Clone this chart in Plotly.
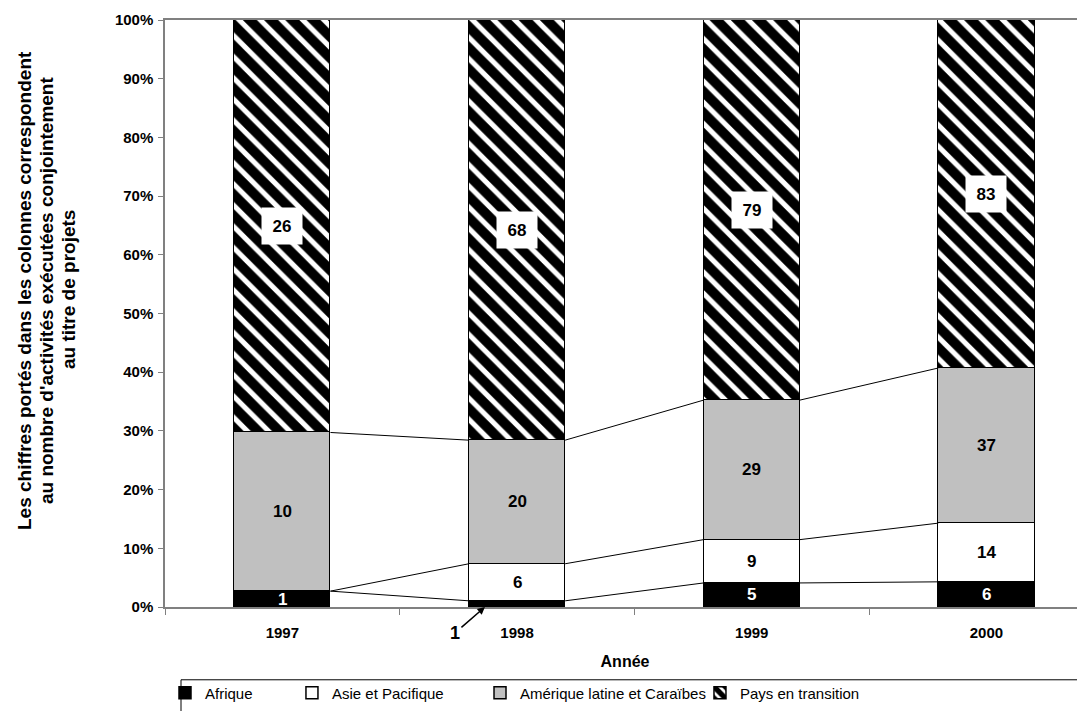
import plotly.graph_objects as go

# ---- data ----
years = ["1997", "1998", "1999", "2000"]
afrique = [1, 1, 5, 6]
asie = [0, 6, 9, 14]
amerique = [10, 20, 29, 37]
transition = [26, 68, 79, 83]
series_names = ["Afrique", "Asie et Pacifique", "Amérique latine et Caraïbes", "Pays en transition"]
y_tick_vals = [0, 0.1, 0.2, 0.3, 0.4, 0.5, 0.6, 0.7, 0.8, 0.9, 1.0]
y_title_lines = ["Les chiffres portés dans les colonnes correspondent",
                 "au nombre d'activités exécutées conjointement",
                 "au titre de projets"]

FONT = "Arial, 'Liberation Sans', sans-serif"
BAR_W = 0.41
PX_PER_CAT = 234.7  # approximate pixel width of one category (for small offsets)

series = [afrique, asie, amerique, transition]
totals = [sum(v) for v in zip(*series)]
pcts = [[v / t for v, t in zip(s, totals)] for s in series]

fills = ["black", "white", "#c0c0c0", "white"]
legends = ["legend", "legend2", "legend3", "legend4"]

fig = go.Figure()
for k, (name, p) in enumerate(zip(series_names, pcts)):
    marker = dict(color=fills[k], line=dict(color="black", width=1.5))
    if k == 3:
        marker["pattern"] = dict(shape="\\", fgcolor="black", bgcolor="white",
                                 size=15, solidity=0.66, fillmode="replace")
    fig.add_trace(go.Bar(x=years, y=p, name=name, marker=marker, width=BAR_W,
                         legend=legends[k], hoverinfo="skip"))

# ---- series lines between bars ----
shapes = []
cum = [0.0] * len(years)
cums = []
for p in pcts:
    cum = [c + v for c, v in zip(cum, p)]
    cums.append(cum[:])
for s in range(3):
    for i in range(len(years) - 1):
        shapes.append(dict(type="line", xref="x", yref="y",
                           x0=i + BAR_W / 2, y0=cums[s][i],
                           x1=i + 1 - BAR_W / 2, y1=cums[s][i + 1],
                           line=dict(color="black", width=1)))

# ---- legend box ----
shapes.append(dict(type="rect", xref="paper", yref="paper",
                   x0=0.0174, x1=1.05, y0=-0.124, y1=-0.25,
                   line=dict(color="black", width=1), fillcolor="rgba(0,0,0,0)"))

# ---- data labels ----
annotations = []
for k, (vals, p) in enumerate(zip(series, pcts)):
    for i, (v, frac) in enumerate(zip(vals, p)):
        if v == 0:
            continue
        base = cums[k][i] - frac
        mid = base + frac / 2
        if frac < 0.02:
            annotations.append(dict(
                x=i - BAR_W / 2 + 16 / PX_PER_CAT, y=base, xref="x", yref="y",
                text=f"<b>{v}</b>", showarrow=True, arrowhead=2, arrowsize=1,
                arrowwidth=1.5, arrowcolor="black", ax=-30, ay=26, standoff=0,
                font=dict(family=FONT, size=18, color="black")))
            continue
        color = "white" if k == 0 else "black"
        ann = dict(x=i, y=mid, xref="x", yref="y", text=f"<b>{v}</b>",
                   showarrow=False, font=dict(family=FONT, size=17, color=color))
        if k == 3:
            ann.update(bgcolor="white", width=38, height=34)
        annotations.append(ann)

# ---- y axis title (3 lines) ----
for j, (line, xp) in enumerate(zip(y_title_lines, [-0.1533, -0.1293, -0.1054])):
    annotations.append(dict(
        x=xp, y=0.54, xref="paper", yref="paper", textangle=-90,
        text=f"<b>{line}</b>", showarrow=False, xanchor="center", yanchor="middle",
        font=dict(family=FONT, size=19, color="black")))

leg_common = dict(font=dict(family=FONT, size=15, color="black"),
                  bgcolor="rgba(0,0,0,0)", borderwidth=0, yanchor="middle",
                  xanchor="left", y=-0.1465, orientation="h")

fig.update_layout(
    width=1077, height=703,
    margin=dict(l=157, r=0, t=12, b=104, autoexpand=False),
    paper_bgcolor="white", plot_bgcolor="white",
    barmode="stack", bargap=0,
    showlegend=True,
    legend=dict(x=0.0, **leg_common),
    legend2=dict(x=0.138, **leg_common),
    legend3=dict(x=0.3424, **leg_common),
    legend4=dict(x=0.5815, **leg_common),
    shapes=shapes, annotations=annotations,
    font=dict(family=FONT, color="black"),
    xaxis=dict(type="category", range=[-0.5, 3.42], tickson="boundaries",
               ticks="outside", ticklen=6, tickcolor="#808080",
               showline=True, linecolor="#808080", linewidth=1.5, mirror=True,
               showgrid=False, ticklabelstandoff=11,
               tickfont=dict(family=FONT, size=15, color="black", weight="bold"),
               title=dict(text="<b>Année</b>", standoff=16,
                          font=dict(family=FONT, size=16, color="black"))),
    yaxis=dict(range=[0, 1], tickvals=y_tick_vals, tickformat=".0%",
               ticks="outside", ticklen=5, tickcolor="#808080",
               showline=True, linecolor="#808080", linewidth=1.5,
               showgrid=False, zeroline=False, ticklabelstandoff=2,
               tickfont=dict(family=FONT, size=15, color="black", weight="bold")),
)

fig.write_html("out.html")
